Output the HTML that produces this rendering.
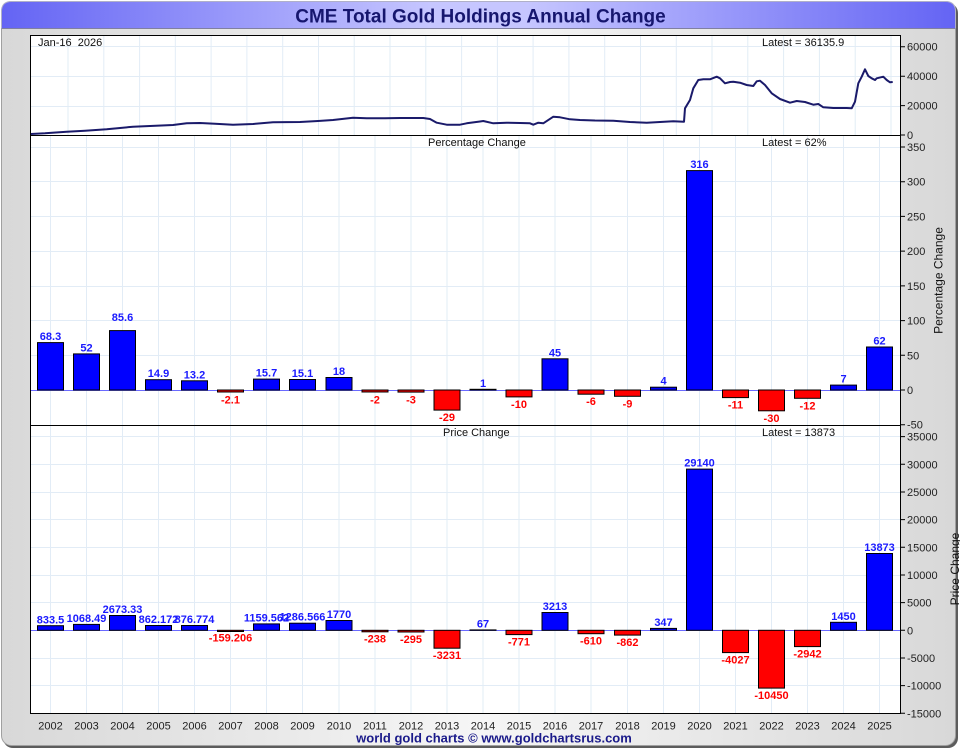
<!DOCTYPE html>
<html><head><meta charset="utf-8"><style>
html,body{margin:0;padding:0;background:#fff;}
svg{display:block;font-family:"Liberation Sans",Arial,sans-serif;}
</style></head><body>
<svg width="960" height="750" viewBox="0 0 960 750" xmlns="http://www.w3.org/2000/svg">
<defs>
<linearGradient id="bg" x1="0" y1="0" x2="1" y2="0">
<stop offset="0" stop-color="#d8d8d8"/><stop offset="0.5" stop-color="#f6f6f6"/><stop offset="1" stop-color="#d8d8d8"/>
</linearGradient>
<linearGradient id="tb" x1="0" y1="0" x2="1" y2="0">
<stop offset="0" stop-color="#6464f4"/><stop offset="0.45" stop-color="#c6c6ff"/><stop offset="0.55" stop-color="#c6c6ff"/><stop offset="1" stop-color="#6464f4"/>
</linearGradient>
</defs>
<rect x="3" y="3" width="955" height="745" rx="10" fill="#5c5c5c"/>
<rect x="1.5" y="1.5" width="954" height="744" rx="10" fill="url(#bg)" stroke="#a0a0a0"/>
<path d="M1.5,28.5 L1.5,11.5 Q1.5,1.5 11.5,1.5 L945.5,1.5 Q955.5,1.5 955.5,11.5 L955.5,28.5 Z" fill="url(#tb)" stroke="#b0b0c8"/>
<line x1="1.5" y1="28.5" x2="955.5" y2="28.5" stroke="#8080a0"/>
<text x="480.5" y="22.5" text-anchor="middle" font-size="19" font-weight="bold" fill="#16166e">CME Total Gold Holdings Annual Change</text>

<rect x="30.5" y="35.5" width="870" height="678" fill="#fff"/>
<g stroke="#e2ecf6" stroke-width="1">
<line x1="68" y1="36" x2="68" y2="135"/><line x1="103.8" y1="36" x2="103.8" y2="135"/><line x1="139.6" y1="36" x2="139.6" y2="135"/><line x1="175.3" y1="36" x2="175.3" y2="135"/><line x1="211.1" y1="36" x2="211.1" y2="135"/><line x1="246.9" y1="36" x2="246.9" y2="135"/><line x1="282.7" y1="36" x2="282.7" y2="135"/><line x1="318.5" y1="36" x2="318.5" y2="135"/><line x1="354.2" y1="36" x2="354.2" y2="135"/><line x1="390" y1="36" x2="390" y2="135"/><line x1="425.8" y1="36" x2="425.8" y2="135"/><line x1="461.6" y1="36" x2="461.6" y2="135"/><line x1="497.4" y1="36" x2="497.4" y2="135"/><line x1="533.1" y1="36" x2="533.1" y2="135"/><line x1="568.9" y1="36" x2="568.9" y2="135"/><line x1="604.7" y1="36" x2="604.7" y2="135"/><line x1="640.5" y1="36" x2="640.5" y2="135"/><line x1="676.3" y1="36" x2="676.3" y2="135"/><line x1="712" y1="36" x2="712" y2="135"/><line x1="747.8" y1="36" x2="747.8" y2="135"/><line x1="783.6" y1="36" x2="783.6" y2="135"/><line x1="819.4" y1="36" x2="819.4" y2="135"/><line x1="855.2" y1="36" x2="855.2" y2="135"/><line x1="891" y1="36" x2="891" y2="135"/>
<line x1="31" y1="46.5" x2="900" y2="46.5"/><line x1="31" y1="76.5" x2="900" y2="76.5"/><line x1="31" y1="106.5" x2="900" y2="106.5"/>
<line x1="31" y1="181.5" x2="900" y2="181.5"/><line x1="31" y1="216.5" x2="900" y2="216.5"/><line x1="31" y1="251.5" x2="900" y2="251.5"/><line x1="31" y1="286.5" x2="900" y2="286.5"/><line x1="31" y1="320.5" x2="900" y2="320.5"/><line x1="31" y1="355.5" x2="900" y2="355.5"/><line x1="31" y1="147.5" x2="900" y2="147.5"/>
<line x1="31" y1="436.5" x2="900" y2="436.5"/><line x1="31" y1="464.5" x2="900" y2="464.5"/><line x1="31" y1="492.5" x2="900" y2="492.5"/><line x1="31" y1="519.5" x2="900" y2="519.5"/><line x1="31" y1="547.5" x2="900" y2="547.5"/><line x1="31" y1="575.5" x2="900" y2="575.5"/><line x1="31" y1="602.5" x2="900" y2="602.5"/><line x1="31" y1="658.5" x2="900" y2="658.5"/><line x1="31" y1="685.5" x2="900" y2="685.5"/>
</g>
<g stroke="#e2ecf6" stroke-width="1">
<path d="M50.5,136V713M86.5,136V713M122.5,136V713M158.5,136V713M194.5,136V713M230.5,136V713M266.5,136V713M302.5,136V713M339,136V713M375,136V713M411,136V713M447,136V713M483,136V713M519,136V713M555,136V713M591,136V713M627.5,136V713M663.5,136V713M699.5,136V713M735.5,136V713M771.5,136V713M807.5,136V713M843.5,136V713M879.5,136V713" fill="none"/>
</g>

<polyline fill="none" stroke="#1a1a6a" stroke-width="2" stroke-linejoin="round" points="31,134 45,133.3 66.7,131.7 85,130.8 106.7,129.3 120,128 133,126.7 150,126 173,125 186.7,123.3 200,123 215,123.8 233,124.7 253,124 273,122.3 300,122 318,121 333,120 353,117.7 366.7,118.3 385,118.2 400,118 423.3,118 430,119 436.7,122.7 446.7,124.7 460,124.7 466.7,123.3 480,121.5 483.3,121 493.3,123.3 506.7,122.7 520,123 530,123.3 533.3,124.7 538.3,122.7 543.3,123.3 553.3,116.7 560,117.3 570,119.3 580,120 595,120.5 613.3,120.7 630,122 646.7,122.7 660,122 673.3,121.3 684,121.7 685,108.3 690,100 693.3,88.3 698.3,80 703.3,79.3 710,79.3 716.7,76.7 720,78.3 725,83.3 730,82 733.3,81.7 740,82.7 746.7,85 753.3,86 756.7,81.3 760,80.7 765,85 771.7,93.3 780,99 790,102.7 796.7,101 805,102 813.3,104.7 818.3,104 823.3,107.3 833.3,108 846.7,108 851.7,108.3 855,101.7 858.3,83.3 861.7,76.7 865,69.3 868.3,76 871.7,78.3 875,80 876.7,78.3 883.3,76.7 886.7,80 890,82.3 892.7,82"/>

<line x1="31" y1="390.5" x2="900" y2="390.5" stroke="#6a6aff"/>
<line x1="31" y1="630.5" x2="900" y2="630.5" stroke="#6a6aff"/>

<g stroke="#000" stroke-width="1">
<rect x="37.5" y="342.6" width="26" height="47.4" fill="#0000ff"/>
<rect x="73.5" y="353.9" width="26" height="36.1" fill="#0000ff"/>
<rect x="109.5" y="330.6" width="26" height="59.4" fill="#0000ff"/>
<rect x="145.5" y="379.7" width="26" height="10.3" fill="#0000ff"/>
<rect x="181.5" y="380.8" width="26" height="9.2" fill="#0000ff"/>
<rect x="217.5" y="390" width="26" height="2" fill="#ff0000"/>
<rect x="253.5" y="379.1" width="26" height="10.9" fill="#0000ff"/>
<rect x="289.5" y="379.5" width="26" height="10.5" fill="#0000ff"/>
<rect x="326" y="377.5" width="26" height="12.5" fill="#0000ff"/>
<rect x="362" y="390" width="26" height="2" fill="#ff0000"/>
<rect x="398" y="390" width="26" height="2.1" fill="#ff0000"/>
<rect x="434" y="390" width="26" height="20.1" fill="#ff0000"/>
<rect x="470" y="389.3" width="26" height="0.7" fill="#0000ff"/>
<rect x="506" y="390" width="26" height="6.9" fill="#ff0000"/>
<rect x="542" y="358.8" width="26" height="31.2" fill="#0000ff"/>
<rect x="578" y="390" width="26" height="4.2" fill="#ff0000"/>
<rect x="614.5" y="390" width="26" height="6.3" fill="#ff0000"/>
<rect x="650.5" y="387.2" width="26" height="2.8" fill="#0000ff"/>
<rect x="686.5" y="170.6" width="26" height="219.4" fill="#0000ff"/>
<rect x="722.5" y="390" width="26" height="7.6" fill="#ff0000"/>
<rect x="758.5" y="390" width="26" height="20.8" fill="#ff0000"/>
<rect x="794.5" y="390" width="26" height="8.3" fill="#ff0000"/>
<rect x="830.5" y="385.1" width="26" height="4.9" fill="#0000ff"/>
<rect x="866.5" y="347" width="26" height="43" fill="#0000ff"/>
</g>
<g font-size="11" font-weight="bold" text-anchor="middle">
<g fill="#1a1aff">
<text x="50.5" y="340.1">68.3</text><text x="86.5" y="351.4">52</text><text x="122.5" y="321">85.6</text><text x="158.5" y="377.2">14.9</text><text x="194.5" y="378.3">13.2</text><text x="266.5" y="376.6">15.7</text><text x="302.5" y="377">15.1</text><text x="339" y="375">18</text><text x="483" y="386.8">1</text><text x="555" y="356.3">45</text><text x="663.5" y="384.7">4</text><text x="699.5" y="168.1">316</text><text x="843.5" y="382.6">7</text><text x="879.5" y="344.5">62</text>
</g>
<g fill="#ff0000">
<text x="230.5" y="403.5">-2.1</text><text x="375" y="403.5">-2</text><text x="411" y="403.5">-3</text><text x="447" y="421.1">-29</text><text x="519" y="408">-10</text><text x="591" y="405.2">-6</text><text x="627.5" y="407.3">-9</text><text x="735.5" y="408.6">-11</text><text x="771.5" y="421.8">-30</text><text x="807.5" y="409.3">-12</text>
</g>
</g>

<g stroke="#000" stroke-width="1">
<rect x="37.5" y="625.7" width="26" height="4.6" fill="#0000ff"/>
<rect x="73.5" y="624.4" width="26" height="5.9" fill="#0000ff"/>
<rect x="109.5" y="615.5" width="26" height="14.8" fill="#0000ff"/>
<rect x="145.5" y="625.5" width="26" height="4.8" fill="#0000ff"/>
<rect x="181.5" y="625.5" width="26" height="4.8" fill="#0000ff"/>
<rect x="217.5" y="630.3" width="26" height="1.2" fill="#ff0000"/>
<rect x="253.5" y="623.9" width="26" height="6.4" fill="#0000ff"/>
<rect x="289.5" y="623.2" width="26" height="7.1" fill="#0000ff"/>
<rect x="326" y="620.5" width="26" height="9.8" fill="#0000ff"/>
<rect x="362" y="630.3" width="26" height="1.5" fill="#ff0000"/>
<rect x="398" y="630.3" width="26" height="1.7" fill="#ff0000"/>
<rect x="434" y="630.3" width="26" height="17.9" fill="#ff0000"/>
<rect x="470" y="629.9" width="26" height="0.4" fill="#0000ff"/>
<rect x="506" y="630.3" width="26" height="4.3" fill="#ff0000"/>
<rect x="542" y="612.5" width="26" height="17.8" fill="#0000ff"/>
<rect x="578" y="630.3" width="26" height="3.4" fill="#ff0000"/>
<rect x="614.5" y="630.3" width="26" height="4.8" fill="#ff0000"/>
<rect x="650.5" y="628.4" width="26" height="1.9" fill="#0000ff"/>
<rect x="686.5" y="469.1" width="26" height="161.2" fill="#0000ff"/>
<rect x="722.5" y="630.3" width="26" height="22.3" fill="#ff0000"/>
<rect x="758.5" y="630.3" width="26" height="57.8" fill="#ff0000"/>
<rect x="794.5" y="630.3" width="26" height="16.3" fill="#ff0000"/>
<rect x="830.5" y="622.3" width="26" height="8" fill="#0000ff"/>
<rect x="866.5" y="553.5" width="26" height="76.8" fill="#0000ff"/>
</g>
<g font-size="11" font-weight="bold" text-anchor="middle">
<g fill="#1a1aff">
<text x="50.5" y="623.6">833.5</text><text x="86.5" y="622">1068.49</text><text x="122.5" y="613">2673.33</text><text x="158.5" y="623">862.172</text><text x="194.5" y="623">876.774</text><text x="266.5" y="621.4">1159.562</text><text x="302.5" y="620.7">1286.566</text><text x="339" y="618">1770</text><text x="483" y="627.4">67</text><text x="555" y="610">3213</text><text x="663.5" y="625.9">347</text><text x="699.5" y="466.6">29140</text><text x="843.5" y="619.8">1450</text><text x="879.5" y="551">13873</text>
</g>
<g fill="#ff0000">
<text x="230.5" y="641.5">-159.206</text><text x="375" y="642.6">-238</text><text x="411" y="643">-295</text><text x="447" y="659.2">-3231</text><text x="519" y="645.6">-771</text><text x="591" y="644.7">-610</text><text x="627.5" y="646.1">-862</text><text x="735.5" y="663.6">-4027</text><text x="771.5" y="699.1">-10450</text><text x="807.5" y="657.6">-2942</text>
</g>
</g>

<rect x="30.5" y="35.5" width="870" height="678" fill="none" stroke="#000"/>
<line x1="30.5" y1="135.5" x2="900.5" y2="135.5" stroke="#000"/>
<line x1="30.5" y1="425.5" x2="900.5" y2="425.5" stroke="#000"/>

<g font-size="11" fill="#111">
<text x="38" y="46" xml:space="preserve">Jan-16  2026</text>
<text x="762" y="46">Latest = 36135.9</text>
<text x="428" y="146">Percentage Change</text>
<text x="762" y="146">Latest = 62%</text>
<text x="443" y="436">Price Change</text>
<text x="762" y="436">Latest = 13873</text>
</g>

<g stroke="#000">
<path d="M900,46.7h5M900,76.2h5M900,105.6h5M900,135h5M900,147h5M900,181.7h5M900,216.4h5M900,251.1h5M900,285.9h5M900,320.6h5M900,355.3h5M900,390h5M900,424.7h5M900,436.6h5M900,464.3h5M900,492h5M900,519.6h5M900,547.3h5M900,575h5M900,602.6h5M900,630.3h5M900,658h5M900,685.6h5M900,713.3h5" fill="none"/>
</g>
<g font-size="11" fill="#222">
<text x="907" y="50.7">60000</text><text x="907" y="80.2">40000</text><text x="907" y="109.6">20000</text><text x="907" y="139">0</text>
<text x="907" y="151">350</text><text x="907" y="185.7">300</text><text x="907" y="220.4">250</text><text x="907" y="255.1">200</text><text x="907" y="289.9">150</text><text x="907" y="324.6">100</text><text x="907" y="359.3">50</text><text x="907" y="394">0</text><text x="907" y="428.7">-50</text>
<text x="907" y="440.6">35000</text><text x="907" y="468.3">30000</text><text x="907" y="496">25000</text><text x="907" y="523.6">20000</text><text x="907" y="551.3">15000</text><text x="907" y="579">10000</text><text x="907" y="606.6">5000</text><text x="907" y="634.3">0</text><text x="907" y="662">-5000</text><text x="907" y="689.6">-10000</text><text x="907" y="717.3">-15000</text>
</g>
<g font-size="12" fill="#111" text-anchor="middle">
<text transform="translate(942.5,280.5) rotate(-90)">Percentage Change</text>
<text transform="translate(959,569) rotate(-90)">Price Change</text>
</g>

<g font-size="11" fill="#222" text-anchor="middle">
<text x="50.5" y="729.5">2002</text><text x="86.5" y="729.5">2003</text><text x="122.5" y="729.5">2004</text><text x="158.5" y="729.5">2005</text><text x="194.5" y="729.5">2006</text><text x="230.5" y="729.5">2007</text><text x="266.5" y="729.5">2008</text><text x="302.5" y="729.5">2009</text><text x="339" y="729.5">2010</text><text x="375" y="729.5">2011</text><text x="411" y="729.5">2012</text><text x="447" y="729.5">2013</text><text x="483" y="729.5">2014</text><text x="519" y="729.5">2015</text><text x="555" y="729.5">2016</text><text x="591" y="729.5">2017</text><text x="627.5" y="729.5">2018</text><text x="663.5" y="729.5">2019</text><text x="699.5" y="729.5">2020</text><text x="735.5" y="729.5">2021</text><text x="771.5" y="729.5">2022</text><text x="807.5" y="729.5">2023</text><text x="843.5" y="729.5">2024</text><text x="879.5" y="729.5">2025</text>
</g>
<text x="494" y="742.5" text-anchor="middle" font-size="13" font-weight="bold" fill="#1a1a8a">world gold charts © www.goldchartsrus.com</text>
</svg>
</body></html>
